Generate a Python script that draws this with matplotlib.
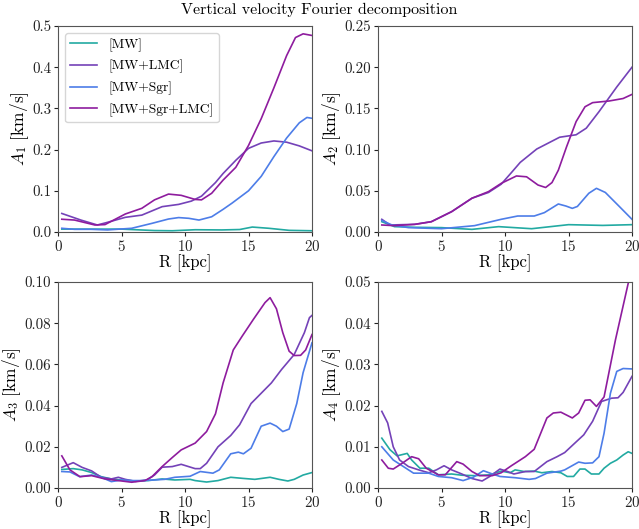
import matplotlib
matplotlib.use("Agg")
import matplotlib.pyplot as plt

plt.rcParams["font.family"] = "serif"
plt.rcParams["font.serif"] = ["cmr10"]
plt.rcParams["mathtext.fontset"] = "cm"
plt.rcParams["axes.formatter.use_mathtext"] = True

labels = ["[MW]", "[MW+LMC]", "[MW+Sgr]", "[MW+Sgr+LMC]"]
colors = ["#22aaa2", "#7442b8", "#4d7de8", "#8e1c9e"]

# A1
a1_mw_r = [0.3, 2.3, 5.0, 7.6, 9.0, 10.8, 12.9, 14.3, 15.3, 16.6, 18.2, 20]
a1_mw = [0.007, 0.007, 0.007, 0.0035, 0.003, 0.0055, 0.005, 0.006, 0.012, 0.009, 0.004, 0.003]
a1_lmc_r = [0.3, 1.8, 3.1, 3.9, 5.3, 6.6, 8.2, 9.5, 10.5, 11.3, 12.4, 13, 14, 15, 16, 17, 18, 19, 20]
a1_lmc = [0.045, 0.029, 0.017, 0.0235, 0.0356, 0.041, 0.0615, 0.067, 0.075, 0.087, 0.12, 0.142, 0.174, 0.203, 0.216, 0.221, 0.218, 0.209, 0.197]
a1_sgr_r = [0.3, 1.3, 2.6, 3.9, 5.8, 7.4, 8.7, 9.5, 10.3, 11.1, 12.1, 13, 13.7, 15, 16, 17, 18, 19, 19.6, 20]
a1_sgr = [0.009, 0.0065, 0.0065, 0.005, 0.009, 0.021, 0.0315, 0.035, 0.0332, 0.029, 0.037, 0.055, 0.07, 0.1, 0.135, 0.183, 0.228, 0.265, 0.278, 0.276]
a1_all_r = [0.3, 1.3, 2.9, 3.7, 5.3, 6.6, 7.6, 8.7, 9.7, 10.8, 11.3, 12.1, 13, 14, 15, 16, 17, 18, 18.7, 19.3, 20]
a1_all = [0.031, 0.029, 0.017, 0.018, 0.0437, 0.0575, 0.078, 0.092, 0.089, 0.079, 0.078, 0.094, 0.126, 0.157, 0.21, 0.275, 0.35, 0.428, 0.472, 0.481, 0.477]

# A2
a2_mw_r = [0.3, 1.3, 2.9, 5.0, 7.4, 9.5, 12.1, 15.0, 17.7, 20]
a2_mw = [0.0125, 0.0065, 0.0057, 0.0053, 0.0032, 0.0065, 0.004, 0.0089, 0.008, 0.0089]
a2_lmc_r = [0.3, 0.94, 2.9, 4.2, 5.8, 7.4, 8.7, 9.7, 10.5, 11.2, 12.5, 14.3, 15.6, 16.4, 17.4, 18.8, 20]
a2_lmc = [0.0154, 0.0085, 0.0093, 0.0125, 0.0247, 0.041, 0.048, 0.058, 0.072, 0.0845, 0.1007, 0.115, 0.118, 0.126, 0.146, 0.176, 0.2]
a2_sgr_r = [0.3, 1.1, 2.4, 5.0, 7.6, 9.7, 11.0, 12.3, 13.1, 14.2, 14.8, 15.3, 15.7, 16.6, 17.2, 17.9, 19.0, 20]
a2_sgr = [0.014, 0.0085, 0.0053, 0.004, 0.0077, 0.0154, 0.0194, 0.0194, 0.0235, 0.034, 0.0315, 0.0287, 0.031, 0.047, 0.053, 0.048, 0.031, 0.0154]
a2_all_r = [0.3, 1.3, 2.9, 4.2, 5.8, 7.4, 8.7, 9.7, 10.9, 11.7, 12.6, 13.2, 13.7, 14.2, 14.85, 15.6, 16.3, 16.9, 18.2, 19.3, 20]
a2_all = [0.0085, 0.0077, 0.0093, 0.0125, 0.0247, 0.041, 0.049, 0.059, 0.068, 0.067, 0.057, 0.054, 0.06, 0.075, 0.1035, 0.134, 0.152, 0.157, 0.159, 0.162, 0.167]

# A3
a3_mw_r = [0.3, 1.2, 1.9, 2.65, 3.4, 4.2, 5.0, 6.1, 7.1, 8.2, 9.2, 10.4, 10.8, 11.7, 12.6, 13.6, 14.5, 15.5, 16.7, 17.4, 18.1, 18.6, 19.3, 20]
a3_mw = [0.009, 0.0094, 0.0088, 0.0075, 0.0055, 0.0044, 0.0039, 0.0034, 0.0036, 0.0044, 0.0039, 0.0042, 0.0036, 0.0029, 0.0036, 0.0052, 0.0047, 0.0042, 0.0052, 0.0042, 0.0034, 0.0042, 0.0063, 0.0075]
a3_lmc_r = [0.3, 1.2, 1.9, 2.65, 3.4, 4.2, 4.75, 5.3, 6.1, 7.0, 7.6, 8.2, 9.0, 9.7, 10.8, 11.2, 11.7, 12.6, 13.6, 14.3, 15.2, 16.0, 16.8, 17.6, 18.6, 19.4, 19.8, 20]
a3_lmc = [0.010, 0.0123, 0.010, 0.0083, 0.0052, 0.0044, 0.0052, 0.0042, 0.0032, 0.0039, 0.0063, 0.0101, 0.0104, 0.0115, 0.0094, 0.0094, 0.012, 0.020, 0.0255, 0.0307, 0.041, 0.046, 0.051, 0.0575, 0.0648, 0.0754, 0.0827, 0.0838]
a3_sgr_r = [0.3, 0.94, 1.7, 2.65, 3.4, 4.2, 5.0, 5.8, 6.6, 7.6, 8.4, 9.2, 10.4, 11.2, 12.2, 12.7, 13.6, 14.2, 14.6, 15.2, 16.0, 16.7, 17.2, 17.7, 18.2, 18.8, 19.3, 20]
a3_sgr = [0.008, 0.0078, 0.0055, 0.0063, 0.0052, 0.0031, 0.0039, 0.0036, 0.0036, 0.0039, 0.0042, 0.0052, 0.0057, 0.008, 0.0072, 0.0088, 0.0166, 0.0174, 0.0166, 0.0193, 0.030, 0.0315, 0.030, 0.0274, 0.0286, 0.041, 0.056, 0.0705]
a3_all_r = [0.3, 0.94, 1.73, 2.65, 3.7, 4.75, 5.8, 6.85, 7.4, 8.2, 9.0, 9.7, 10.8, 11.7, 12.4, 13.0, 13.8, 14.5, 15.4, 16.3, 16.7, 17.2, 17.7, 18.2, 18.6, 19.1, 19.5, 20]
a3_all = [0.0156, 0.0088, 0.0055, 0.006, 0.0044, 0.0036, 0.0028, 0.0036, 0.0055, 0.0104, 0.0148, 0.0185, 0.0218, 0.0274, 0.036, 0.051, 0.067, 0.0737, 0.082, 0.090, 0.0924, 0.087, 0.0754, 0.0664, 0.0643, 0.0644, 0.067, 0.0745]

# A4
a4_mw_r = [0.3, 0.94, 1.5, 2.3, 2.65, 3.3, 4.0, 4.75, 5.8, 6.6, 7.6, 8.8, 9.7, 10.4, 10.8, 11.5, 12.3, 12.9, 13.7, 14.4, 14.9, 15.4, 15.9, 16.3, 16.8, 17.4, 17.8, 18.3, 18.8, 19.3, 19.7, 20]
a4_mw = [0.0121, 0.0093, 0.0078, 0.0084, 0.0068, 0.0048, 0.0048, 0.0032, 0.0034, 0.0031, 0.003, 0.0032, 0.0041, 0.0037, 0.0044, 0.004, 0.0041, 0.0037, 0.004, 0.0037, 0.0028, 0.0028, 0.0046, 0.0046, 0.0034, 0.0034, 0.0048, 0.006, 0.0068, 0.008, 0.0088, 0.0084]
a4_lmc_r = [0.3, 0.76, 1.2, 1.7, 2.4, 3.2, 4.0, 4.6, 5.2, 5.8, 6.6, 7.4, 8.2, 8.8, 9.6, 10.2, 10.7, 11.6, 12.3, 13.3, 14.1, 14.7, 15.5, 16.2, 16.9, 17.6, 18.4, 18.9, 19.3, 20]
a4_lmc = [0.0186, 0.0158, 0.010, 0.0068, 0.0052, 0.0044, 0.0037, 0.0044, 0.0054, 0.0044, 0.0034, 0.0023, 0.0017, 0.0028, 0.0046, 0.004, 0.0034, 0.004, 0.004, 0.0064, 0.0076, 0.0086, 0.0109, 0.0129, 0.0162, 0.021, 0.0218, 0.0219, 0.0232, 0.0271]
a4_sgr_r = [0.3, 1.2, 2.0, 2.8, 4.0, 4.75, 5.8, 6.7, 7.5, 8.3, 9.0, 9.6, 10.4, 10.8, 11.9, 12.4, 13.3, 14.4, 14.7, 15.8, 16.3, 16.9, 17.4, 17.8, 18.3, 18.8, 19.3, 20]
a4_sgr = [0.010, 0.0068, 0.0052, 0.0036, 0.0036, 0.0028, 0.0025, 0.0018, 0.0026, 0.0042, 0.0034, 0.0028, 0.0026, 0.0025, 0.0021, 0.0023, 0.0036, 0.0041, 0.0044, 0.0063, 0.006, 0.0061, 0.0076, 0.0133, 0.023, 0.0283, 0.029, 0.0289]
a4_all_r = [0.3, 0.81, 1.2, 1.9, 2.65, 3.2, 3.8, 4.75, 5.3, 6.2, 6.7, 7.4, 8.0, 9.0, 9.7, 10.5, 11.6, 12.3, 13.3, 13.8, 14.4, 15.3, 15.8, 16.3, 16.7, 17.2, 17.8, 18.7, 19.74, 20]
a4_all = [0.0068, 0.0048, 0.0046, 0.006, 0.0076, 0.0071, 0.0048, 0.0032, 0.0032, 0.0064, 0.0058, 0.004, 0.003, 0.003, 0.0037, 0.0054, 0.0076, 0.0094, 0.017, 0.0182, 0.0184, 0.017, 0.0182, 0.0213, 0.0214, 0.0198, 0.0221, 0.036, 0.0502, 0.054]

panels = [
    ([a1_mw_r, a1_lmc_r, a1_sgr_r, a1_all_r], [a1_mw, a1_lmc, a1_sgr, a1_all], 0.5, r"$A_1$ [km/s]"),
    ([a2_mw_r, a2_lmc_r, a2_sgr_r, a2_all_r], [a2_mw, a2_lmc, a2_sgr, a2_all], 0.25, r"$A_2$ [km/s]"),
    ([a3_mw_r, a3_lmc_r, a3_sgr_r, a3_all_r], [a3_mw, a3_lmc, a3_sgr, a3_all], 0.1, r"$A_3$ [km/s]"),
    ([a4_mw_r, a4_lmc_r, a4_sgr_r, a4_all_r], [a4_mw, a4_lmc, a4_sgr, a4_all], 0.05, r"$A_4$ [km/s]"),
]
yticks = [[0, 0.1, 0.2, 0.3, 0.4, 0.5],
          [0, 0.05, 0.10, 0.15, 0.20, 0.25],
          [0, 0.02, 0.04, 0.06, 0.08, 0.10],
          [0, 0.01, 0.02, 0.03, 0.04, 0.05]]
yfmt = ["%.1f", "%.2f", "%.2f", "%.2f"]

fig = plt.figure(figsize=(6.39, 5.29), dpi=100)
boxes = [[58/639, 1-232/529, 254/639, 206/529],
         [378/639, 1-232/529, 254/639, 206/529],
         [58/639, 1-488/529, 254/639, 206/529],
         [378/639, 1-488/529, 254/639, 206/529]]

for i, (rs, vs, top, ylab) in enumerate(panels):
    ax = fig.add_axes(boxes[i])
    for r, v, lab, c in zip(rs, vs, labels, colors):
        ax.plot(r, v, color=c, lw=1.2, label=lab)
    ax.set_xlim(0, 20)
    ax.set_ylim(0, top)
    ax.set_xticks([0, 5, 10, 15, 20])
    ax.set_yticks(yticks[i])
    ax.set_yticklabels([yfmt[i] % t for t in yticks[i]])
    ax.tick_params(labelsize=10.8, colors="#222222", length=3, pad=2)
    for s in ax.spines.values():
        s.set_color("#555555")
    ax.set_xlabel("R [kpc]", fontsize=12, labelpad=0)
    ax.set_ylabel(ylab, fontsize=12.5, labelpad=1)
    if i == 0:
        ax.legend(loc="upper left", fontsize=9.8, labelspacing=0.6)

fig.suptitle("Vertical velocity Fourier decomposition", fontsize=11.5, y=0.995)
fig.savefig("out.png", dpi=100)
